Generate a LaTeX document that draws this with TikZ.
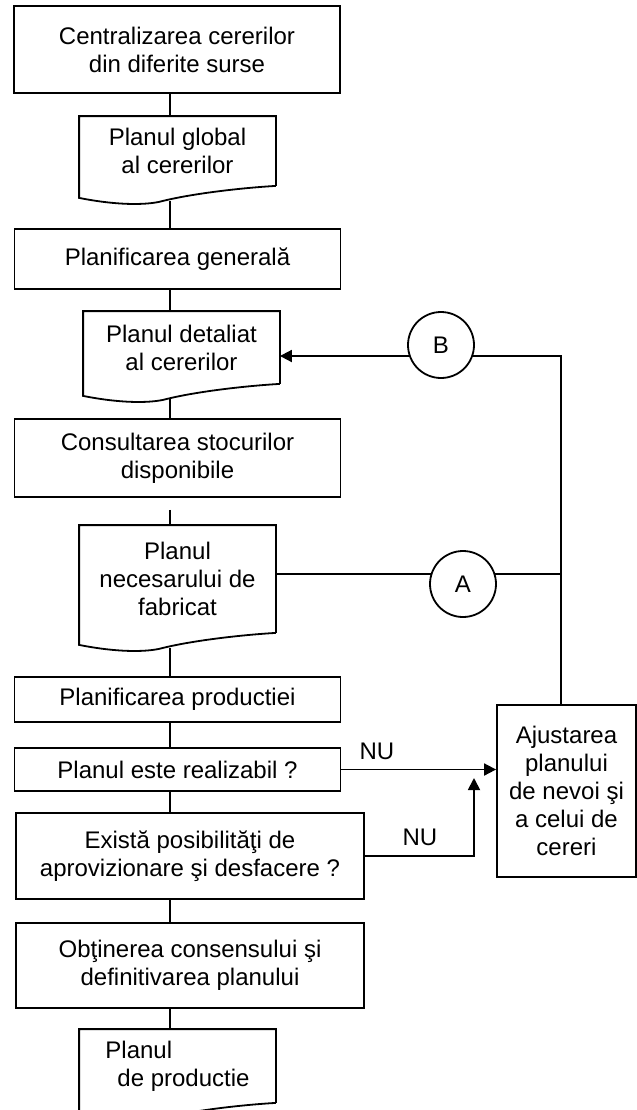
\documentclass[tikz,border=0pt]{standalone}
\usepackage{fontspec}
\setmainfont{Liberation Sans}
\usetikzlibrary{calc,arrows.meta}

% wavy bottom of a document node, plus a point on the wave for the connector
\newcommand{\docoutline}[1]{%
  \draw (#1.south east) -- (#1.north east) -- (#1.north west) -- ($(#1.south west)+(0,12)$)
    .. controls +(30,6) and +(-20,4) .. ($(#1.south west)+(80,16)$)
    .. controls +(30,-8) and +(-35,2) .. (#1.south east);
  \coordinate (#1-w) at ($(#1.south west)+(90,15)$);
}

\tikzset{
  every path/.style={line width=0.9pt},
  txt/.style={font=\fontsize{12}{14}\selectfont},
  procbox/.style={txt, draw, rectangle, minimum width=163pt, inner sep=0pt, align=center},
  docnode/.style={txt, rectangle, minimum width=97.5pt, inner sep=0pt, align=center},
  connector/.style={txt, circle, draw, fill=white, minimum size=33pt, inner sep=0pt},
  arr/.style={-{Triangle[length=6pt,width=6pt]}}
}

\begin{document}
\begin{tikzpicture}[x=0.5pt,y=-0.5pt]
  \useasboundingbox (0,0) rectangle (637,1110);

  % main column
  \node[procbox, minimum height=43.5pt] (bCent) at (177,49.5) {Centralizarea cererilor\\din diferite surse};
  \node[docnode, minimum height=34pt] (dGlob) at (177.5,151) {Planul global\\al cererilor};
  \node[procbox, minimum height=30pt] (bGen) at (177.5,259) {Planificarea generală};
  \node[docnode, minimum height=35.5pt] (dDet) at (181.5,347.5) {Planul detaliat\\al cererilor};
  \node[procbox, minimum height=39pt] (bCons) at (177.5,458) {Consultarea stocurilor\\disponibile};
  \node[docnode, minimum height=53pt] (dNec) at (177.5,579) {Planul\\necesarului de\\fabricat};
  \node[procbox, minimum height=22.5pt] (bProd) at (177.5,699.5) {Planificarea productiei};
  \node[procbox, minimum height=21.5pt] (bReal) at (177.5,769.5) {Planul este realizabil ?};
  \node[procbox, minimum width=174pt, minimum height=43pt] (bExist) at (190,856) {Există posibilităţi de\\aprovizionare şi desfacere ?};
  \node[procbox, minimum width=174pt, minimum height=42.5pt] (bObt) at (190,965.5) {Obţinerea consensului şi\\definitivarea planului};
  \node[docnode, minimum height=36pt, align=left] (dProd) at (177.5,1066) {Planul\\\hspace*{6pt}de productie};

  % right side
  \node[procbox, minimum width=69.5pt, minimum height=86pt] (bAdj) at (566.5,791) {Ajustarea\\planului\\de nevoi şi\\a celui de\\cereri};

  \docoutline{dGlob}
  \docoutline{dDet}
  \docoutline{dNec}
  \docoutline{dProd}

  \coordinate (spine) at (170,0);
  \coordinate (cB) at (561,356);
  \coordinate (cA) at (561,574);
  \coordinate (cN) at (474,778);

  % vertical flow
  \draw (bCent.south -| spine) -- (dGlob.north -| spine);
  \draw (dGlob-w -| spine) -- (bGen.north -| spine);
  \draw (bGen.south -| spine) -- (dDet.north -| spine);
  \draw (dDet-w -| spine) -- (bCons.north -| spine);
  \draw ($(bCons.south -| spine)+(0,12)$) -- (dNec.north -| spine);
  \draw (dNec-w -| spine) -- (bProd.north -| spine);
  \draw (bProd.south -| spine) -- (bReal.north -| spine);
  \draw (bReal.south -| spine) -- (bExist.north -| spine);
  \draw (bExist.south -| spine) -- (bObt.north -| spine);
  \draw (bObt.south -| spine) -- (dProd.north -| spine);

  % feedback
  \draw[arr] (bAdj.north -| cB) -- (cB) -- (cB -| dDet.east);
  \draw (cA -| dNec.east) -- (cA);
  \draw[arr] (bReal.east) -- (bReal.east -| bAdj.west);
  \draw[arr] (bExist.east) -| (cN);

  \node[connector] (kB) at (441,345) {B};
  \node[connector] (kA) at (463,584) {A};
  \node[txt] (nu1) at (377,751) {NU};
  \node[txt] (nu2) at (420,837) {NU};
\end{tikzpicture}
\end{document}
